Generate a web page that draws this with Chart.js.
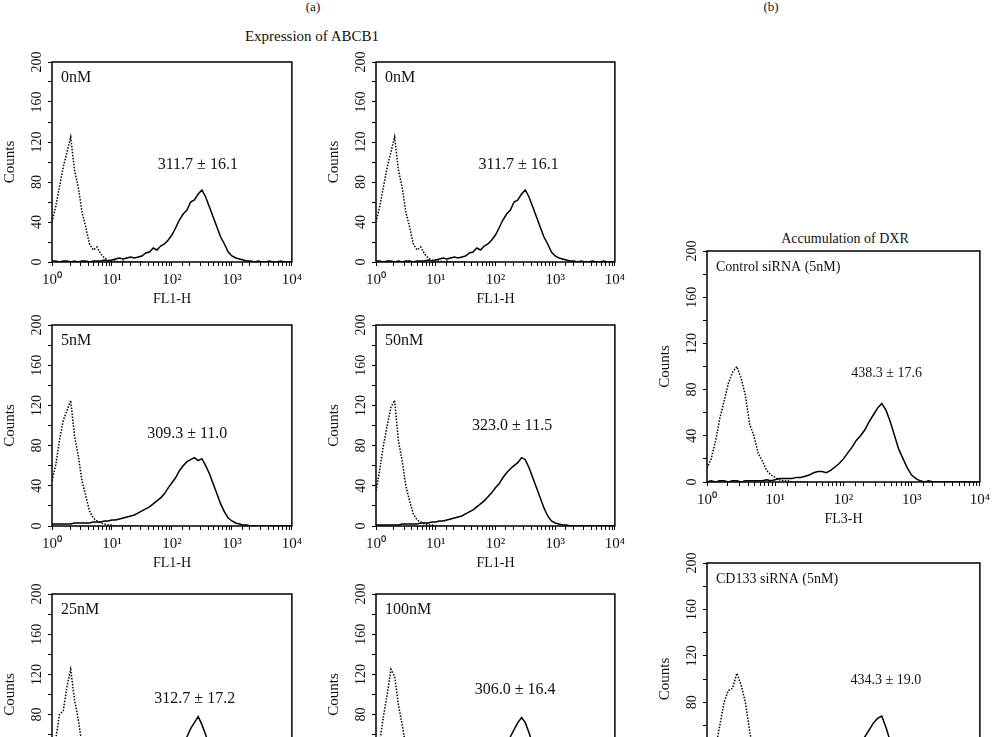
<!DOCTYPE html>
<html><head><meta charset="utf-8">
<script src="https://cdn.jsdelivr.net/npm/chart.js@4"></script>
<style>
body{margin:0;background:#fff;width:993px;height:737px;overflow:hidden;position:relative;font-family:"Liberation Serif",serif;}
.t{position:absolute;font-size:15px;color:#111;transform:translateX(-50%);white-space:nowrap}
.c{position:absolute}
</style></head><body>
<div class="t" style="left:313px;top:-1px;font-size:13px">(a)</div>
<div class="t" style="left:771px;top:-1px;font-size:13px">(b)</div>
<div class="t" style="left:312px;top:28px">Expression of ABCB1</div>
<div class="t" style="left:845px;top:231px;font-size:14px">Accumulation of DXR</div>
<script>
const channels=[1,1.15,1.33,1.54,1.78,2.05,2.37,2.74,3.16,3.65,4.22,4.87,5.62,6.49,7.5,8.66,10,11.5,13.3,15.4,17.8,20.5,23.7,27.4,31.6,36.5,42.2,48.7,56.2,64.9,75,86.6,100,115,133,154,178,205,237,274,316,365,422,487,562,649,750,866,1000,1155,1334,1540,1778,2054,2371,2738,3162,3652,4217,4870,5623,6494,7499,8660,10000];
const yTicks=[0,40,80,120,160,200];
const xTickLabels=['10⁰','10¹','10²','10³','10⁴'];

const dot0=[40,55,75,95,110,125,92,75,50,35,18,12,15,8,4,2,1,1,0,1,0,0,0,0,0];
const sol0=[1,1,0,1,1,0,1,0,1,1,0,1,1,1,2,1, 2,3,4,3,4,5,4,5,6,9,10,14,12,16,18,22, 27,34,42,48,52,60,62,68,72,65,55,45,35,25,18,10, 6,4,3,2,1,1,0,1,0,0,1,0,0,1,0,0,0];
const dot5=[45,60,85,105,115,125,90,70,45,30,15,8,5,3,2,1,1,0,0,0,0,0,0,0,0];
const sol5=[2,2,2,2,2,2,3,3,3,3,3,4,4,4,5,5, 6,6,7,8,9,10,11,13,15,17,19,22,25,28,32,38, 43,48,55,60,64,66,68,65,67,60,52,42,32,22,14,8, 5,3,2,1,1,0,0,0,0,0,0,0,0,0,0,0,0];
const dot50=[35,55,80,100,118,125,85,65,40,25,12,6,4,2,1,1,0,0,0,0,0,0,0,0,0];
const sol50=[1,1,1,1,1,1,1,2,2,2,2,2,3,3,3,4, 4,5,5,6,7,8,9,10,12,14,16,19,22,25,29,33, 38,42,48,53,57,60,63,68,66,58,48,38,28,18,10,5, 3,2,1,1,0,0,0,0,0,0,0,0,0,0,0,0,0];
const dot25=[38,55,80,84,108,125,95,75,50,32,18,10,8,4,2,1,1,0,0,0,0,0,0,0,0];
const sol25=[1,1,0,1,1,0,1,0,1,1,0,1,1,1,2,1, 2,3,4,3,4,5,4,5,6,9,10,13,12,15,18,22, 28,35,42,50,58,66,72,78,70,60,48,36,26,18,10,6, 4,3,2,1,1,0,0,0,0,0,0,0,0,0,0,0,0];
const dot100=[36,52,78,100,125,118,90,70,48,30,16,9,6,3,2,1,0,0,0,0,0,0,0,0,0];
const sol100=[1,0,1,1,0,1,1,0,1,1,1,1,1,1,1,2, 2,3,3,4,4,5,5,6,7,8,10,12,14,16,19,23, 28,34,42,50,58,65,72,77,72,62,50,38,27,18,11,6, 4,2,1,1,0,0,0,0,0,0,0,0,0,0,0,0,0];
const dotCtl=[12,20,35,55,70,85,95,100,90,75,50,40,25,18,10,6,4,2,1,1,0,0,0,0,0];
const solCtl=[0,1,0,1,1,0,1,1,0,1,1,1,1,1,2,1, 2,3,3,3,3,4,4,5,6,8,9,9,8,10,13,16, 20,25,30,36,40,45,52,58,64,68,62,52,40,28,20,12, 6,3,1,0,1,0,0,0,0,0,0,0,0,0,0,0,0];
const dotCD=[15,25,40,60,80,90,92,105,95,80,55,35,22,14,8,5,3,2,1,0,0,0,0,0,0];
const solCD=[0,1,1,0,1,1,0,1,1,1,0,1,1,2,1,2, 2,2,3,3,4,4,5,5,6,7,9,10,11,12,15,18, 22,27,33,38,44,50,56,62,66,68,58,46,35,25,16,9, 5,2,1,1,0,0,0,0,0,0,0,0,0,0,0,0,0];

const panels=[
 {left:52,top:62,w:245,h:200,name:'0nM',ann:'311.7 ± 16.1',ax:270,ay:97,dot:dot0,sol:sol0,xt:'FL1-H',fs:16},
 {left:376,top:62,w:244,h:200,name:'0nM',ann:'311.7 ± 16.1',ax:245,ay:97,dot:dot0,sol:sol0,xt:'FL1-H',fs:16},
 {left:52,top:325,w:245,h:201,name:'5nM',ann:'309.3 ± 11.0',ax:180,ay:92,dot:dot5,sol:sol5,xt:'FL1-H',fs:16},
 {left:376,top:325,w:244,h:201,name:'50nM',ann:'323.0 ± 11.5',ax:190,ay:100,dot:dot50,sol:sol50,xt:'FL1-H',fs:16},
 {left:52,top:594,w:245,h:201,name:'25nM',ann:'312.7 ± 17.2',ax:240,ay:96,dot:dot25,sol:sol25,xt:'FL1-H',fs:16},
 {left:376,top:594,w:244,h:201,name:'100nM',ann:'306.0 ± 16.4',ax:213,ay:105,dot:dot100,sol:sol100,xt:'FL1-H',fs:16},
 {left:707,top:251,w:278,h:231,name:'Control siRNA (5nM)',ann:'438.3 ± 17.6',ax:430,ay:94,dot:dotCtl,sol:solCtl,xt:'FL3-H',fs:14},
 {left:707,top:563,w:278,h:232,name:'CD133 siRNA (5nM)',ann:'434.3 ± 19.0',ax:420,ay:99,dot:dotCD,sol:solCD,xt:'FL3-H',fs:14}
];
const FONT='"Liberation Serif", serif';
const deco={id:'deco',afterDraw(ch){
 const p=ch.options.plugins.deco.p;const a=ch.chartArea;const c=ch.ctx;const ys=ch.scales.y,xs=ch.scales.x;
 c.save();c.strokeStyle='#000';c.lineWidth=1.5;c.strokeRect(a.left,a.top,a.right-a.left,a.bottom-a.top);
 c.fillStyle='#111';c.font='14px '+FONT;
 yTicks.forEach(v=>{const y=ys.getPixelForValue(v);c.save();c.translate(a.left-15,y);c.rotate(-Math.PI/2);c.textAlign='center';c.textBaseline='middle';c.fillText(String(v),0,0);c.restore();});
 c.save();c.translate(a.left-42,(a.top+a.bottom)/2);c.rotate(-Math.PI/2);c.textAlign='center';c.textBaseline='middle';c.font='15px '+FONT;c.fillText('Counts',0,0);c.restore();
 c.textAlign='center';c.textBaseline='middle';c.font='14px '+FONT;c.fillText(p.xt,(a.left+a.right)/2,a.bottom+37);
 c.font=p.fs+'px '+FONT;
 c.textAlign='left';c.fillText(p.name,a.left+9,a.top+16);
 c.textAlign='center';c.fillText(p.ann,xs.getPixelForValue(p.ax),ys.getPixelForValue(p.ay));
 c.restore();}};
panels.forEach(p=>{
 const cv=document.createElement('canvas');const W=p.w+60,H=p.h+60;
 cv.width=W;cv.height=H;cv.style.width=W+'px';cv.style.height=H+'px';
 const d=document.createElement('div');d.className='c';d.style.left=(p.left-50)+'px';d.style.top=(p.top-10)+'px';d.style.width=W+'px';d.style.height=H+'px';
 d.appendChild(cv);document.body.appendChild(d);
 new Chart(cv,{type:'line',data:{datasets:[
   {data:p.dot.map((v,i)=>({x:channels[i],y:v})),borderColor:'#000',borderWidth:1.5,borderDash:[1.5,1.5],pointRadius:0,tension:0},
   {data:p.sol.map((v,i)=>({x:channels[i],y:v})),borderColor:'#000',borderWidth:1.5,pointRadius:0,tension:0}]},
  options:{responsive:false,animation:false,maintainAspectRatio:false,devicePixelRatio:1,
   layout:{padding:{top:10,right:10,left:0,bottom:0}},
   plugins:{legend:{display:false},tooltip:{enabled:false},deco:{p}},
   scales:{
    x:{type:'logarithmic',min:1,max:10000,border:{display:false},grid:{drawOnChartArea:false,tickLength:4,color:'#000'},
       afterFit(s){s.height=50;},
       ticks:{autoSkip:false,maxRotation:0,padding:5,color:'#111',font:{family:FONT,size:15},
        callback(v){const l=Math.log10(v);const r=Math.round(l);return Math.abs(l-r)<1e-9?xTickLabels[r]:'';}}},
    y:{min:0,max:200,border:{display:false},grid:{drawOnChartArea:false,tickLength:4,color:'#000'},afterFit(s){s.width=50;},
       ticks:{stepSize:20,display:false}}}},
  plugins:[deco]});
});
</script></body></html>
